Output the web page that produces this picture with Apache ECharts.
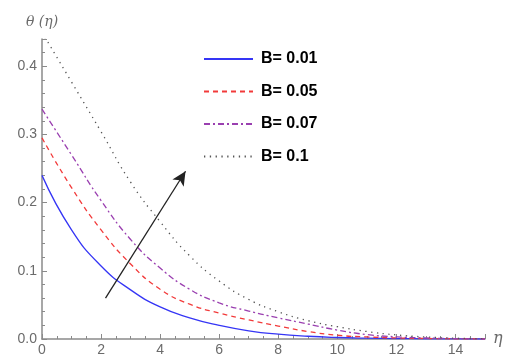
<!DOCTYPE html>
<html><head><meta charset="utf-8">
<script src="https://cdn.jsdelivr.net/npm/echarts@6/dist/echarts.min.js"></script>
<style>html,body{margin:0;padding:0;background:#fff}#c{width:508px;height:357px}</style>
</head><body><div id="c"></div>
<script>
const eta = [0,1,2,3,4,5,6,7,8,9,10,11,12,13,14,15];
const seriesNames = ['B= 0.01','B= 0.05','B= 0.07','B= 0.1'];
const b001 = [0.24,0.16,0.107,0.072,0.047,0.031,0.02,0.012,0.007,0.004,0.0022,0.0012,0.0006,0.0003,0.0001,0.0];
const b005 = [0.295,0.222,0.16,0.11,0.073,0.051,0.038,0.028,0.019,0.011,0.0055,0.003,0.0015,0.0008,0.0003,0.0001];
const b007 = [0.337,0.27,0.203,0.146,0.104,0.073,0.053,0.041,0.031,0.022,0.013,0.0065,0.0032,0.0015,0.0006,0.0002];
const b01  = [0.45,0.377,0.304,0.23,0.172,0.122,0.085,0.058,0.04,0.027,0.018,0.011,0.006,0.003,0.0012,0.0004];
const xTicks = [0,2,4,6,8,10,12,14];
const yTicks = [0.0,0.1,0.2,0.3,0.4];
const arrowStart = [2.15, 0.06];
const arrowEnd = [4.86, 0.246];

const pairs = a => eta.map((x,i)=>[x,a[i]]);
const chart = echarts.init(document.getElementById('c'));
const axisColor = '#8a8a8a';
const labelColor = '#6b6b6b';
chart.setOption({
  animation:false,
  grid:{left:42,right:23,top:39,bottom:18,containLabel:false},
  legend:{
    orient:'vertical', left:198, top:46, itemGap:16.5, itemWidth:49, itemHeight:14,
    itemStyle:{opacity:0},
    textStyle:{fontFamily:'Liberation Sans, Arial',fontWeight:'bold',fontSize:16,color:'#000',padding:[0,0,0,3]},
    data:seriesNames
  },
  xAxis:{
    type:'value', min:0, max:15, interval:2,
    name:'η', nameLocation:'end', nameGap:8,
    nameTextStyle:{fontFamily:'DejaVu Serif',fontStyle:'italic',fontSize:16,color:labelColor,padding:[14,0,0,0]},
    axisLine:{lineStyle:{color:axisColor,width:1.5}},
    axisTick:{inside:true,length:5,lineStyle:{color:axisColor}},
    minorTick:{show:true,splitNumber:4,length:3,lineStyle:{color:axisColor}},
    axisLabel:{showMaxLabel:false,color:labelColor,fontSize:14,fontFamily:'Liberation Sans, Arial',margin:4,
      formatter:v=>xTicks.includes(v)?String(v):''},
    splitLine:{show:false}
  },
  yAxis:{
    type:'value', min:0, max:0.44, interval:0.1,
    name:'θ (η)', nameLocation:'end', nameGap:10,
    nameTextStyle:{fontFamily:'DejaVu Serif',fontStyle:'italic',fontSize:14,color:labelColor,align:'center',padding:[0,0,0,0]},
    axisLine:{show:true,lineStyle:{color:axisColor,width:1.5}},
    axisTick:{show:true,inside:true,length:5,lineStyle:{color:axisColor}},
    minorTick:{show:true,splitNumber:5,length:3,lineStyle:{color:axisColor}},
    axisLabel:{showMaxLabel:false,color:labelColor,fontSize:14,fontFamily:'Liberation Sans, Arial',margin:5,
      formatter:v=>{const t=yTicks.find(y=>Math.abs(y-v)<1e-9);return t===undefined?'':t.toFixed(1);}},
    splitLine:{show:false}
  },
  series:[
    {name:seriesNames[0],type:'line',smooth:true,symbol:'none',data:pairs(b001),
     lineStyle:{color:'#3535f5',width:1.3,type:'solid'},itemStyle:{color:'#3535f5'},
     markLine:{silent:true,symbol:['none','arrow'],symbolSize:[10,14],label:{show:false},
       lineStyle:{color:'#222',width:1.3,type:'solid'},
       data:[[{coord:arrowStart},{coord:arrowEnd}]]}},
    {name:seriesNames[1],type:'line',smooth:true,symbol:'none',data:pairs(b005),
     lineStyle:{color:'#f23a3a',width:1.3,type:[5,4]},itemStyle:{color:'#f23a3a'}},
    {name:seriesNames[2],type:'line',smooth:true,symbol:'none',data:pairs(b007),
     lineStyle:{color:'#9a3fb0',width:1.3,type:[6,3,2,3]},itemStyle:{color:'#9a3fb0'}},
    {name:seriesNames[3],type:'line',smooth:true,symbol:'none',data:pairs(b01),
     lineStyle:{color:'#555',width:1.3,type:[1.3,4.5]},itemStyle:{color:'#555'}}
  ]
});
</script></body></html>
